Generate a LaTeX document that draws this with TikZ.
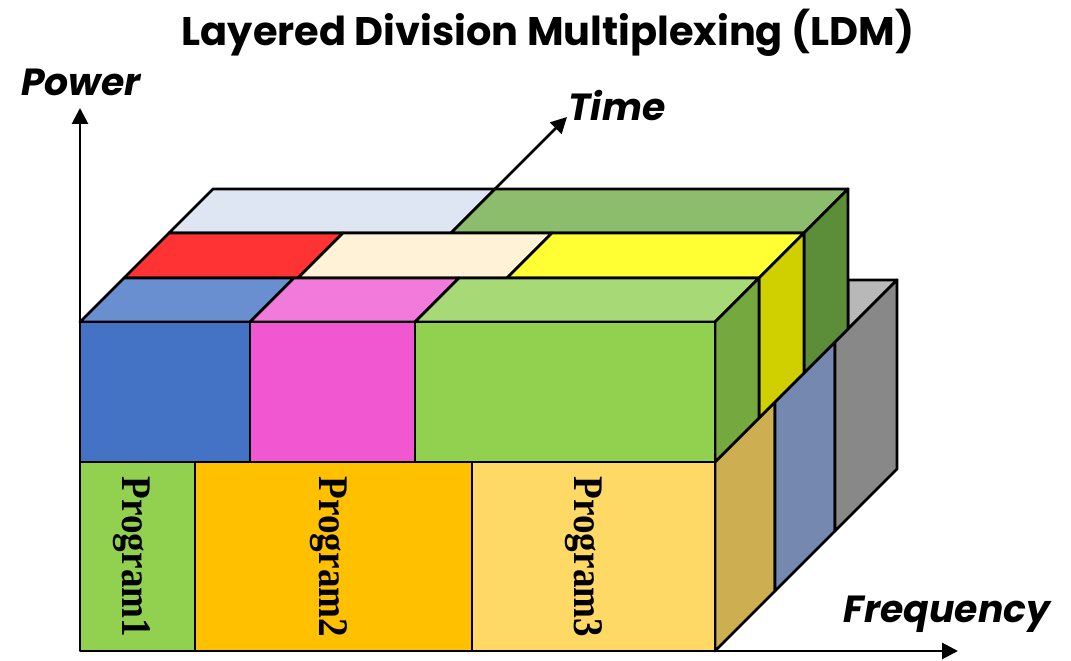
\documentclass[tikz,border=0pt]{standalone}
\usepackage{fontspec}
\newfontfamily\gothic{Poppins}
\newfontfamily\progfont{Liberation Serif}
\usetikzlibrary{arrows.meta}
\definecolor{cBlue}{HTML}{4472C4}
\definecolor{cBlueTop}{HTML}{6A8FD0}
\definecolor{cPink}{HTML}{F057D1}
\definecolor{cPinkTop}{HTML}{F27ADB}
\definecolor{cGreen}{HTML}{92D050}
\definecolor{cGreenTop}{HTML}{A7DA76}
\definecolor{cGreenSide}{HTML}{76A840}
\definecolor{cRed}{HTML}{FF3333}
\definecolor{cCream}{HTML}{FFF2D6}
\definecolor{cYellow}{HTML}{FFFF33}
\definecolor{cYellowSide}{HTML}{D0D000}
\definecolor{cLightBlue}{HTML}{DFE6F3}
\definecolor{cDkGreen}{HTML}{8CBD6C}
\definecolor{cDkGreenSide}{HTML}{5C8E3A}
\definecolor{cProgA}{HTML}{92D050}
\definecolor{cProgB}{HTML}{FFC000}
\definecolor{cProgC}{HTML}{FFD966}
\definecolor{cTan}{HTML}{CDAF52}
\definecolor{cSlate}{HTML}{7589B0}
\definecolor{cGray}{HTML}{888888}
\definecolor{cLGray}{HTML}{B8B8B8}
\newcommand{\progtext}[1]{\scalebox{0.88}[1]{#1}}
\begin{document}
\begin{tikzpicture}[x={(0.02cm,0)}, y={(0,0.02cm)}, z={(0.02cm,0.02cm)},
  face/.style={draw=black, line width=1.6pt, line join=round},
  axis/.style={line width=1.6pt, -{Triangle[width=0.32cm,length=0.32cm]}},
  lbl/.style={font=\gothic\bfseries\itshape\fontsize{21.5}{26}\selectfont, inner sep=0pt},
  prog/.style={font=\progfont\bfseries\fontsize{24}{28}\selectfont, rotate=-90, inner sep=0pt}]
\useasboundingbox (0,0) rectangle (1071,661);

% axes
\coordinate (O) at (80,10);
\coordinate (Ptip) at (80,553);
\coordinate (Ftip) at (958,10);
\coordinate (Tstart) at (362,339,133);
\coordinate (Ttip) at (362,339,205);
\draw[axis] (O) -- (Ptip);
\draw[axis] (O) -- (Ftip);
\draw[axis] (Tstart) -- (Ttip);

% bottom layer: visible part of top face
\filldraw[face, fill=cLGray] (715,199,133) -- (666,199,182) -- (715,199,182) -- cycle;
% bottom layer right face strips
\filldraw[face, fill=cTan]   (715,10,0)   -- (715,10,60)  -- (715,199,60)  -- (715,199,0)   -- cycle;
\filldraw[face, fill=cSlate] (715,10,60)  -- (715,10,120) -- (715,199,120) -- (715,199,60)  -- cycle;
\filldraw[face, fill=cGray]  (715,10,120) -- (715,10,182) -- (715,199,182) -- (715,199,120) -- cycle;
% bottom layer front face
\filldraw[face, fill=cProgA] (80,10) rectangle (195,199);
\filldraw[face, fill=cProgB] (195,10) rectangle (472,199);
\filldraw[face, fill=cProgC] (472,10) rectangle (715,199);

% top layer: top faces (back row)
\filldraw[face, fill=cLightBlue] (80,339,89)  -- (362,339,89)  -- (362,339,133) -- (80,339,133)  -- cycle;
\filldraw[face, fill=cDkGreen]   (362,339,89) -- (715,339,89)  -- (715,339,133) -- (362,339,133) -- cycle;
% middle row
\filldraw[face, fill=cRed]    (80,339,44)  -- (254,339,44) -- (254,339,89) -- (80,339,89)  -- cycle;
\filldraw[face, fill=cCream]  (254,339,44) -- (463,339,44) -- (463,339,89) -- (254,339,89) -- cycle;
\filldraw[face, fill=cYellow] (463,339,44) -- (715,339,44) -- (715,339,89) -- (463,339,89) -- cycle;
% front row
\filldraw[face, fill=cBlueTop]  (80,339,0)  -- (250,339,0) -- (250,339,44) -- (80,339,44)  -- cycle;
\filldraw[face, fill=cPinkTop]  (250,339,0) -- (415,339,0) -- (415,339,44) -- (250,339,44) -- cycle;
\filldraw[face, fill=cGreenTop] (415,339,0) -- (715,339,0) -- (715,339,44) -- (415,339,44) -- cycle;
% right faces
\filldraw[face, fill=cDkGreenSide] (715,199,89) -- (715,199,133) -- (715,339,133) -- (715,339,89) -- cycle;
\filldraw[face, fill=cYellowSide]  (715,199,44) -- (715,199,89)  -- (715,339,89)  -- (715,339,44) -- cycle;
\filldraw[face, fill=cGreenSide]   (715,199,0)  -- (715,199,44)  -- (715,339,44)  -- (715,339,0)  -- cycle;
% front faces
\filldraw[face, fill=cBlue]  (80,199) rectangle (250,339);
\filldraw[face, fill=cPink]  (250,199) rectangle (415,339);
\filldraw[face, fill=cGreen] (415,199) rectangle (715,339);

% program labels
\node[prog] (p1) at (132,104) {\progtext{Program1}};
\node[prog] (p2) at (329,104) {\progtext{Program2}};
\node[prog] (p3) at (584,104) {\progtext{Program3}};

% axis labels and title
\node[lbl] (lp) at (81,579) {Power};
\node[lbl] (lt) at (617,555) {Time};
\node[lbl] (lf) at (947,47) {Frequency};
\node[font=\gothic\bfseries\fontsize{22.7}{27}\selectfont, inner sep=0pt] (title) at (548,628) {Layered Division Multiplexing (LDM)};
\end{tikzpicture}
\end{document}
